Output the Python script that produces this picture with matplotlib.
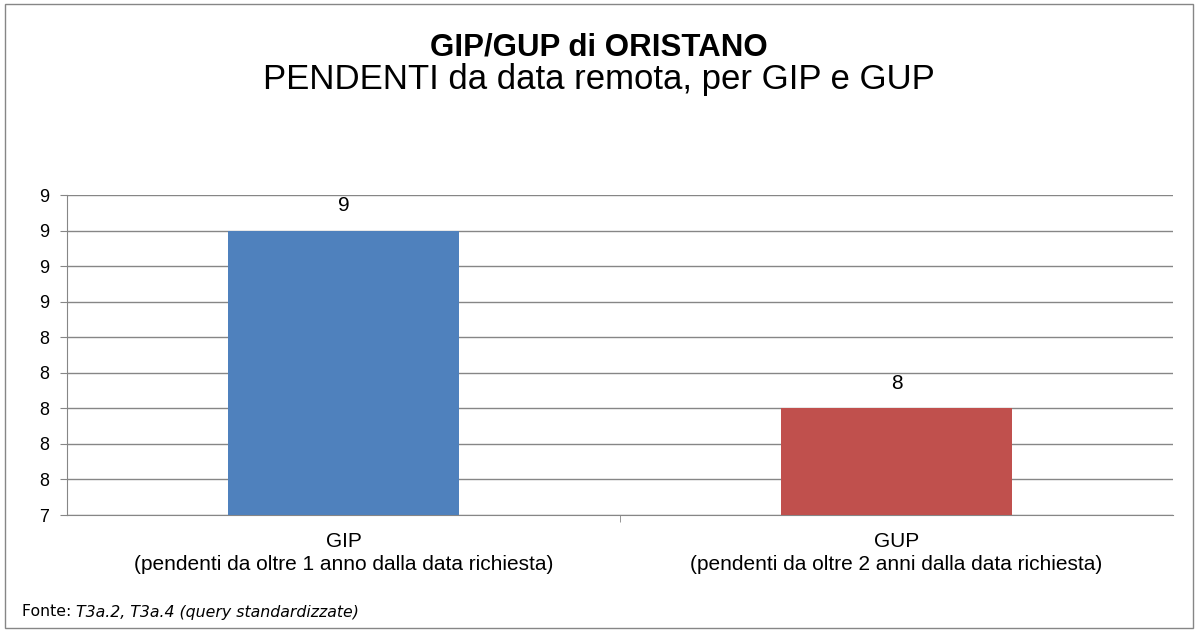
import numpy as np
import matplotlib.pyplot as plt
from matplotlib.patches import Rectangle
from matplotlib.ticker import FuncFormatter

categories = ["GIP\n(pendenti da oltre 1 anno dalla data richiesta)",
              "GUP\n(pendenti da oltre 2 anni dalla data richiesta)"]
values = [9, 8]
colors = ["#4f81bd", "#c0504d"]
y_ticks = [7.4, 7.6, 7.8, 8.0, 8.2, 8.4, 8.6, 8.8, 9.0, 9.2]

plt.rcParams['font.family'] = ['Liberation Sans', 'DejaVu Sans']

fig = plt.figure(figsize=(11.98, 6.32), dpi=100)
ax = fig.add_axes([67/1198, 117/632, 1106/1198, 320/632])

x = np.arange(len(values))
ax.bar(x, values, width=0.416, color=colors, zorder=3)
for xi, v in zip(x, values):
    ax.annotate(f"{v:.0f}", (xi, v), xytext=(0, 18), textcoords="offset points",
                ha="center", va="center", fontsize=15)

ax.set_xlim(-0.5, 1.5)
ax.set_ylim(y_ticks[0], y_ticks[-1])
ax.set_yticks(y_ticks)
ax.yaxis.set_major_formatter(FuncFormatter(lambda v, p: f"{int(np.floor(v + 0.5))}"))
ax.set_xticks([0.5], minor=True)
ax.set_xticks(x)
ax.set_xticklabels(categories, fontsize=15, linespacing=1.3)
ax.tick_params(axis="x", which="minor", length=5, color="#868686")
ax.tick_params(axis="x", which="major", length=0, pad=12)
ax.tick_params(axis="y", length=5, color="#868686", labelsize=13, pad=8)
ax.grid(axis="y", color="#868686", linewidth=1, zorder=0)
for s in ["top", "right"]:
    ax.spines[s].set_visible(False)
ax.spines["left"].set_color("#868686")
ax.spines["bottom"].set_color("#868686")

fig.text(0.5, 1 - 47/632, "GIP/GUP di ORISTANO", ha="center", va="center",
         fontsize=22.5, fontweight="bold")
fig.text(0.5, 1 - 80/632, "PENDENTI da data remota, per GIP e GUP", ha="center",
         va="center", fontsize=25)

# footnote: plain "Fonte:" followed by italic source list
t1 = fig.text(22/1198, 1 - 612/632, "Fonte: ", ha="left", va="center", fontsize=11.3,
              family="DejaVu Sans")
fig.canvas.draw()
bb = t1.get_window_extent()
fig.text(bb.x1 / fig.bbox.width, 1 - 612/632, "T3a.2, T3a.4 (query standardizzate)",
         ha="left", va="center", fontsize=11.3, family="DejaVu Sans", style="italic")

fig.add_artist(Rectangle((5/1198, 4/632), 1188/1198, 624/632, transform=fig.transFigure,
                         fill=False, edgecolor="#868686", linewidth=1))

fig.savefig("out.png", dpi=100)
